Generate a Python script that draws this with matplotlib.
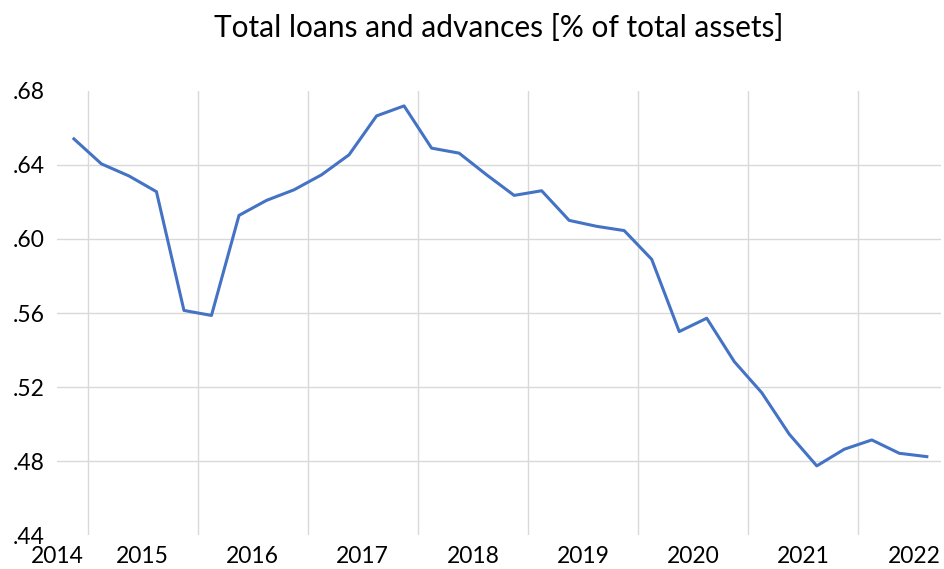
import matplotlib
matplotlib.use("Agg")
import matplotlib.pyplot as plt

# quarterly values, 2014Q4 .. 2022Q3
quarters = ["2014Q4",
            "2015Q1", "2015Q2", "2015Q3", "2015Q4",
            "2016Q1", "2016Q2", "2016Q3", "2016Q4",
            "2017Q1", "2017Q2", "2017Q3", "2017Q4",
            "2018Q1", "2018Q2", "2018Q3", "2018Q4",
            "2019Q1", "2019Q2", "2019Q3", "2019Q4",
            "2020Q1", "2020Q2", "2020Q3", "2020Q4",
            "2021Q1", "2021Q2", "2021Q3", "2021Q4",
            "2022Q1", "2022Q2", "2022Q3"]
loans_share = [0.654,
               0.6405, 0.634, 0.6255, 0.5614,
               0.5587, 0.6127, 0.6208, 0.6265,
               0.6346, 0.6454, 0.6664, 0.6718,
               0.649, 0.6463, 0.6346, 0.6235,
               0.626, 0.610, 0.6068, 0.6045,
               0.589, 0.550, 0.5572, 0.5338,
               0.517, 0.4946, 0.4775, 0.4865,
               0.4915, 0.4843, 0.4825]
years = ["2014", "2015", "2016", "2017", "2018", "2019", "2020", "2021", "2022"]
y_ticks = [0.44, 0.48, 0.52, 0.56, 0.60, 0.64, 0.68]

plt.rcParams["font.family"] = ["Lato", "DejaVu Sans"]

fig = plt.figure(figsize=(9.44, 5.69), dpi=100)
ax = fig.add_axes([0.0608, 0.0591, 0.9356, 0.7815])

x = list(range(len(quarters)))
ax.plot(x, loans_share, color="#4472C4", linewidth=2.2, solid_joinstyle="round")

ax.set_xlim(-0.5, len(quarters) - 0.5)
ax.set_ylim(0.44, 0.68)

# year boundaries fall between Q4 and Q1
for i, q in enumerate(quarters):
    if q.endswith("Q1"):
        ax.axvline(i - 0.5, color="#d9d9d9", linewidth=1, zorder=0)

ax.set_yticks(y_ticks)
ax.set_yticklabels(["." + ("%.2f" % v).split(".")[1] for v in y_ticks])
for v in y_ticks[1:-1]:
    ax.axhline(v, color="#d9d9d9", linewidth=1, zorder=0)

# year labels centred on each year's block of quarters
year_pos = []
for yr in years:
    idx = [i for i, q in enumerate(quarters) if q.startswith(yr)]
    year_pos.append((idx[0] + idx[-1]) / 2)
year_pos[0] = -0.6
year_pos[-1] = 30.55
ax.set_xticks(year_pos)
ax.set_xticklabels(years)

ax.tick_params(axis="both", length=0, labelsize=16.5, colors="#000000")
ax.tick_params(axis="y", pad=9)
ax.tick_params(axis="x", pad=8)
for s in ax.spines.values():
    s.set_visible(False)

fig.text(0.528, 0.935, "Total loans and advances [% of total assets]",
         ha="center", va="baseline", fontsize=21.5)

plt.savefig("out.png", dpi=100)
